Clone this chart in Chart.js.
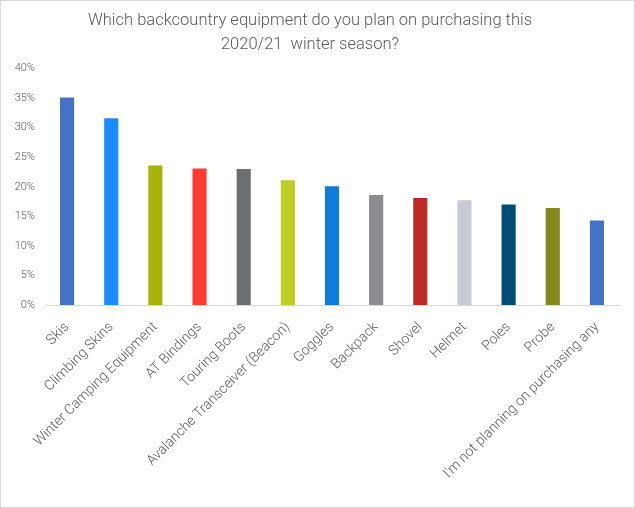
<!DOCTYPE html>
<html lang="en">
<head>
  <meta charset="UTF-8">
  <title>Backcountry equipment</title>
  <script src="https://cdn.jsdelivr.net/npm/chart.js"></script>
  <style>
    body { margin: 0; background: #FFFFFF; }
    .quadro { width: 635px; height: 508px; box-sizing: border-box; border: 1px solid #D9D9D9; }
    canvas { display: block; }
  </style>
</head>
<body>
  <div class="quadro"><canvas id="grafico" width="633" height="506"></canvas></div>

  <script>
    const categorias = ["Skis", "Climbing Skins", "Winter Camping Equipment", "AT Bindings", "Touring Boots",
      "Avalanche Transceiver (Beacon)", "Goggles", "Backpack", "Shovel", "Helmet", "Poles", "Probe",
      "I'm not planning on purchasing any"];
    const valores = [35.1, 31.6, 23.6, 23.1, 23.0, 21.1, 20.1, 18.6, 18.1, 17.7, 17.0, 16.4, 14.3];
    const cores = ["#4472C4", "#1A8CFF", "#A5B309", "#FF3A33", "#6D6E71", "#BFCE25", "#0F7BDD",
      "#8C8D91", "#BE2B27", "#C9CBD3", "#014E74", "#82891D", "#4472C4"];
    const ticksY = [0, 5, 10, 15, 20, 25, 30, 35, 40];

    const cinza = "#595959";

    new Chart(document.getElementById("grafico"), {
      type: "bar",
      data: {
        labels: categorias,
        datasets: [{
          data: valores,
          backgroundColor: cores,
          barPercentage: 0.32,
          categoryPercentage: 1
        }]
      },
      options: {
        responsive: false,
        animation: false,
        layout: { padding: { left: 0, right: 15, top: 0, bottom: 0 } },
        plugins: {
          legend: { display: false },
          tooltip: { enabled: false },
          title: {
            display: true,
            text: ["Which backcountry equipment do you plan on purchasing this", "2020/21  winter season?"],
            color: cinza,
            font: { family: "Roboto", size: 16.5, weight: 300, lineHeight: 1.5 },
            padding: { top: 7, bottom: 11 }
          }
        },
        scales: {
          x: {
            grid: { display: false },
            border: { display: true, color: "#D9D9D9", width: 1 },
            ticks: {
              color: cinza,
              font: { family: "Roboto", size: 14, weight: 300 },
              minRotation: 45,
              maxRotation: 45,
              autoSkip: false,
              padding: 6
            },
            afterFit: (escala) => { escala.height = 202; }
          },
          y: {
            min: 0,
            max: 40,
            grid: { display: false, drawTicks: false },
            border: { display: false },
            afterBuildTicks: (escala) => { escala.ticks = ticksY.map(v => ({ value: v })); },
            ticks: {
              color: cinza,
              font: { family: "Roboto", size: 11, weight: 300 },
              padding: 10,
              callback: (v) => v + "%"
            },
            afterFit: (escala) => { escala.width = 44; }
          }
        }
      }
    });
  </script>
</body>
</html>
